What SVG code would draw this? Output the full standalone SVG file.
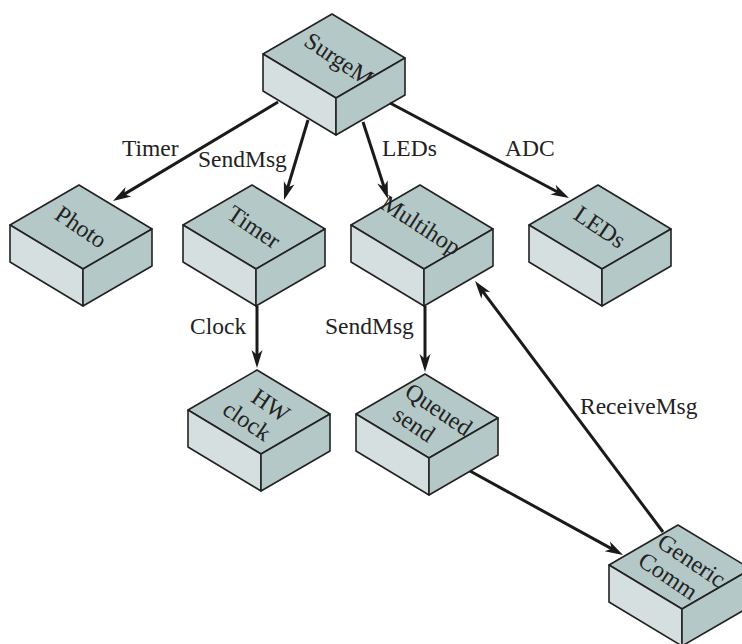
<svg xmlns="http://www.w3.org/2000/svg" xmlns:xlink="http://www.w3.org/1999/xlink" width="742" height="644" viewBox="0 0 742 644">
<style>
.top{fill:#b4c8c7;stroke:#222;stroke-width:1.6;stroke-linejoin:round}
.left{fill:#d5dfe0;stroke:#222;stroke-width:1.6;stroke-linejoin:round}
.right{fill:#b4c8c7;stroke:#222;stroke-width:1.6;stroke-linejoin:round}
.nt{font-family:"Liberation Serif","Times New Roman",serif;font-size:24px;fill:#222;text-anchor:middle}
.lbl{font-family:"Liberation Serif","Times New Roman",serif;font-size:23.5px;fill:#222}
.edge{stroke:#1a1a1a;stroke-width:3;fill:none;marker-end:url(#ah)}
</style>
<defs>
<marker id="ah" viewBox="-13 -6 20 12" refX="0" refY="0" markerWidth="20" markerHeight="12" orient="auto" markerUnits="userSpaceOnUse">
<path d="M6,0 L-12,-5.5 L-7,0 L-12,5.5 Z" fill="#1a1a1a"/>
</marker>
<g id="box">
<path class="top" d="M0,0 L-69,40 L4,84 L73,44 Z"/>
<path class="left" d="M-69,40 L4,84 L4,121 L-69,77 Z"/>
<path class="right" d="M4,84 L73,44 L73,81 L4,121 Z"/>
</g>
<clipPath id="topclip"><path d="M0,0 L-69,40 L4,84 L73,44 Z"/></clipPath>
</defs>

<g id="node-surgem" transform="translate(332,14)">
<use xlink:href="#box"/>
<g clip-path="url(#topclip)">
<text class="nt" font-size="25" transform="translate(2 42) rotate(34)" x="6" y="8">SurgeM</text>
</g>
</g>
<g id="node-photo" transform="translate(79,185)">
<use xlink:href="#box"/>
<text class="nt" transform="translate(2 42) rotate(34)" x="0" y="8">Photo</text>
</g>
<g id="node-timer" transform="translate(252,185)">
<use xlink:href="#box"/>
<text class="nt" transform="translate(2 42) rotate(34)" x="0" y="8">Timer</text>
</g>
<g id="node-multihop" transform="translate(420,185)">
<use xlink:href="#box"/>
<text class="nt" font-size="22" transform="translate(2 42) rotate(33)" x="-2" y="7">Multihop</text>
</g>
<g id="node-leds" transform="translate(598,185)">
<use xlink:href="#box"/>
<text class="nt" transform="translate(2 42) rotate(34)" x="0" y="8">LEDs</text>
</g>
<g id="node-hwclock" transform="translate(257,370)">
<use xlink:href="#box"/>
<text class="nt" transform="translate(2 42) rotate(34)"><tspan x="6" y="-4">HW</tspan><tspan x="-5" y="22">clock</tspan></text>
</g>
<g id="node-queuedsend" transform="translate(425,374)">
<use xlink:href="#box"/>
<text class="nt" transform="translate(2 42) rotate(34)"><tspan x="6" y="-4">Queued</tspan><tspan x="-6" y="22">send</tspan></text>
</g>
<g id="node-genericcomm" transform="translate(678,525)">
<use xlink:href="#box"/>
<text class="nt" transform="translate(2 42) rotate(34)"><tspan x="6" y="-4">Generic</tspan><tspan x="-5" y="22">Comm</tspan></text>
</g>

<g id="connectors">
<line class="edge" x1="278" y1="102" x2="118.1" y2="197.9"/>
<line class="edge" x1="308" y1="120" x2="285.7" y2="194.3"/>
<line class="edge" x1="363" y1="122" x2="386.1" y2="193.3"/>
<line class="edge" x1="390" y1="103" x2="563.7" y2="195.2"/>
<line class="edge" x1="257" y1="306" x2="257" y2="362"/>
<line class="edge" x1="425" y1="306" x2="425" y2="366"/>
<line class="edge" x1="470" y1="471" x2="617.8" y2="552.1"/>
<line class="edge" x1="663" y1="532" x2="478.6" y2="285.8"/>
</g>

<g id="labels">
<text class="lbl" x="122" y="156">Timer</text>
<text class="lbl" x="198" y="167">SendMsg</text>
<text class="lbl" x="382" y="156">LEDs</text>
<text class="lbl" x="505" y="156">ADC</text>
<text class="lbl" x="190" y="334">Clock</text>
<text class="lbl" x="325" y="334">SendMsg</text>
<text class="lbl" x="580" y="414">ReceiveMsg</text>
</g>
</svg>
